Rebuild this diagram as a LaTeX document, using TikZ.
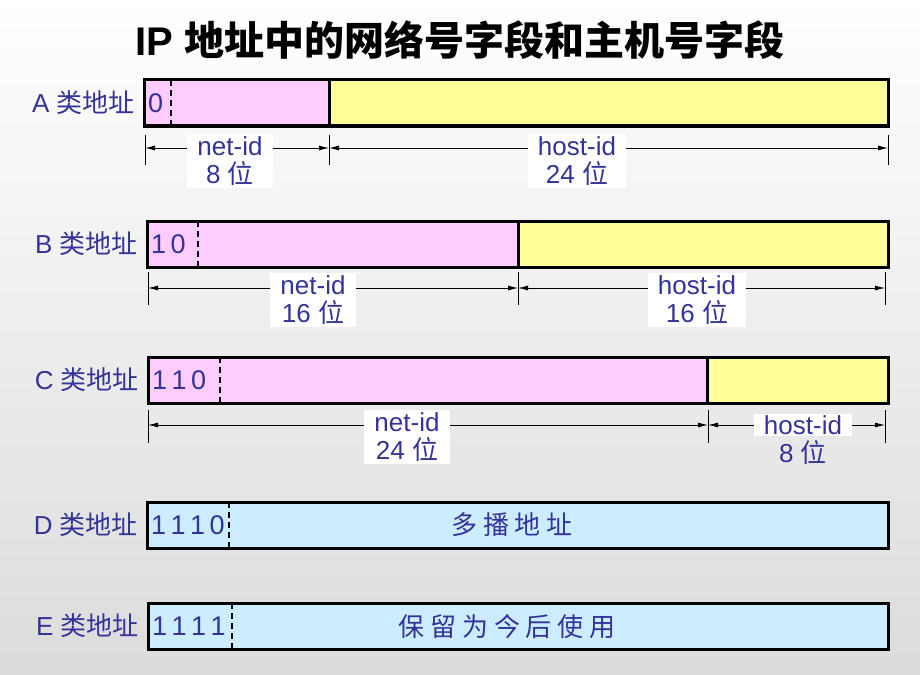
\documentclass[tikz,border=0pt]{standalone}
\usepackage{fontspec}
\setmainfont{Liberation Sans}
\newfontfamily\cjk{Noto Sans CJK SC}
\usetikzlibrary{arrows.meta,positioning}

\definecolor{idblue}{RGB}{51,51,153}
\definecolor{netpink}{RGB}{255,204,255}
\definecolor{hostyellow}{RGB}{255,255,153}
\definecolor{specialblue}{RGB}{204,236,255}

\begin{document}
\begin{tikzpicture}[x=1pt,y=-1pt,
field/.style={draw, line width=3pt, minimum height=46pt, inner sep=0pt, outer sep=0pt},
netfield/.style={field, fill=netpink},
hostfield/.style={field, fill=hostyellow},
specialfield/.style={field, fill=specialblue},
bitline/.style={line width=1.8pt, dash pattern=on 6pt off 4pt},
bitnode/.style={text=idblue, font=\fontsize{27}{30}\selectfont, inner sep=0pt, anchor=west},
classnode/.style={text=idblue, font=\fontsize{26}{30}\selectfont, inner sep=0pt},
fieldtext/.style={text=idblue, font=\fontsize{26}{30}\selectfont, inner sep=0pt},
sizenode/.style={text=idblue, font=\fontsize{26}{28}\selectfont, align=center, fill=white, inner xsep=10pt, inner ysep=3pt},
dimline/.style={{Latex[length=10pt,width=5pt]}-{Latex[length=10pt,width=5pt]}, line width=0.9pt},
dimtick/.style={line width=0.9pt}
]
    \useasboundingbox (0,0) rectangle (920,674);
    \shade[top color=white, bottom color=gray!28] (0,0) rectangle (920,674);

    \node[font=\fontsize{40}{44}\selectfont\bfseries] (title) at (460,40) {IP {\cjk 地址中的网络号字段和主机号字段}};

    % A
    \node[netfield, minimum width=185pt, anchor=north west] (netA) at (144,80) {};
    \node[hostfield, minimum width=559pt, right=0pt of netA] (hostA) {};
    \draw[bitline] ([xshift=27pt]netA.north west) -- ([xshift=27pt]netA.south west);
    \node[bitnode, right=4pt of netA.west] (bitsA) {0};
    \node[classnode, left=9pt of netA.west] (classA) {A {\cjk 类地址}};

    \coordinate (dimA0) at (145,148);
    \coordinate (dimA1) at (329,148);
    \coordinate (dimA2) at (888,148);
    \foreach \p in {dimA0,dimA1,dimA2} \draw[dimtick] (\p) +(0,-13) -- +(0,17);
    \draw[dimline] (dimA0) -- (dimA1);
    \draw[dimline] (dimA1) -- (dimA2);
    \node[sizenode] (netsizeA) at (230,161) {net-id\\8 {\cjk 位}};
    \node[sizenode] (hostsizeA) at (577,161) {host-id\\24 {\cjk 位}};

    % B
    \node[netfield, minimum width=371pt, anchor=north west] (netB) at (147,221) {};
    \node[hostfield, minimum width=370pt, right=0pt of netB] (hostB) {};
    \draw[bitline] ([xshift=51pt]netB.north west) -- ([xshift=51pt]netB.south west);
    \node[bitnode, right=4pt of netB.west] (bitsB) {1\,0};
    \node[classnode, left=9pt of netB.west] (classB) {B {\cjk 类地址}};

    \coordinate (dimB0) at (148,288);
    \coordinate (dimB1) at (518,288);
    \coordinate (dimB2) at (885,288);
    \foreach \p in {dimB0,dimB1,dimB2} \draw[dimtick] (\p) +(0,-16) -- +(0,17);
    \draw[dimline] (dimB0) -- (dimB1);
    \draw[dimline] (dimB1) -- (dimB2);
    \node[sizenode] (netsizeB) at (313,300) {net-id\\16 {\cjk 位}};
    \node[sizenode] (hostsizeB) at (697,300) {host-id\\16 {\cjk 位}};

    % C
    \node[netfield, minimum width=559pt, anchor=north west] (netC) at (148,357) {};
    \node[hostfield, minimum width=181pt, right=0pt of netC] (hostC) {};
    \draw[bitline] ([xshift=72pt]netC.north west) -- ([xshift=72pt]netC.south west);
    \node[bitnode, right=4pt of netC.west] (bitsC) {1\,1\,0};
    \node[classnode, left=9pt of netC.west] (classC) {C {\cjk 类地址}};

    \coordinate (dimC0) at (148,425);
    \coordinate (dimC1) at (708,425);
    \coordinate (dimC2) at (885,425);
    \foreach \p in {dimC0,dimC1,dimC2} \draw[dimtick] (\p) +(0,-15) -- +(0,18);
    \draw[dimline] (dimC0) -- (dimC1);
    \draw[dimline] (dimC1) -- (dimC2);
    \node[sizenode] (netsizeC) at (407,437) {net-id\\24 {\cjk 位}};
    \node[sizenode, inner ysep=1pt] (hostsizeC) at (803,425) {host-id};
    \node[sizenode, fill=none] (hostbitsC) at (803,452) {8 {\cjk 位}};

    % D
    \node[specialfield, minimum width=741pt, anchor=north west] (fieldD) at (147,502) {};
    \draw[bitline] ([xshift=82pt]fieldD.north west) -- ([xshift=82pt]fieldD.south west);
    \node[bitnode, right=4pt of fieldD.west] (bitsD) {1\,1\,1\,0};
    \node[classnode, left=9pt of fieldD.west] (classD) {D {\cjk 类地址}};
    \node[fieldtext] (multicastD) at (512,525) {\cjk 多\ 播\ 地\ 址};

    % E
    \node[specialfield, minimum width=740pt, anchor=north west] (fieldE) at (148,603) {};
    \draw[bitline] ([xshift=84pt]fieldE.north west) -- ([xshift=84pt]fieldE.south west);
    \node[bitnode, right=4pt of fieldE.west] (bitsE) {1\,1\,1\,1};
    \node[classnode, left=9pt of fieldE.west] (classE) {E {\cjk 类地址}};
    \node[fieldtext] (reservedE) at (507,627) {\cjk 保\ 留\ 为\ 今\ 后\ 使\ 用};
\end{tikzpicture}
\end{document}
